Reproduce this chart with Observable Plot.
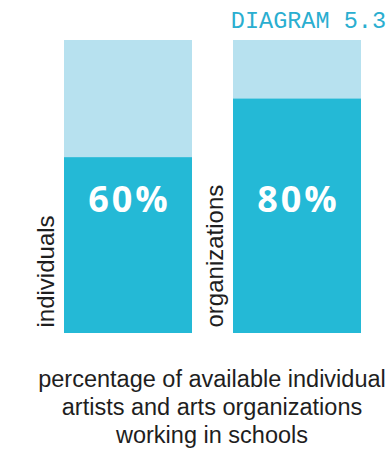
<!DOCTYPE html>
<html>
<head>
<meta charset="utf-8">
<script src="https://cdn.jsdelivr.net/npm/d3@7"></script>
<script src="https://cdn.jsdelivr.net/npm/@observablehq/plot@0.6"></script>
<style>
  html, body { margin: 0; padding: 0; background: #fff; }
  #wrap { position: relative; width: 389px; height: 451px; overflow: hidden; }
  #title { position: absolute; right: 3px; top: 8px; font-family: "Liberation Mono", monospace; font-size: 23.5px; color: #2aaed0; }
  #chart { position: absolute; left: 0; top: 0; }
  #chart g[font-weight="bold"] text { letter-spacing: 3px; }
  #caption { position: absolute; left: 12px; width: 400px; top: 365px; text-align: center; font-family: "Liberation Sans", Arial, sans-serif; font-size: 23.5px; line-height: 28px; color: #1e1e1e; }
</style>
</head>
<body>
<div id="wrap">
  <div id="chart"></div>
  <div id="title"></div>
  <div id="caption"></div>
</div>
<script>
const categories = ["individuals", "organizations"];
const values = [60, 80];
const totals = [100, 100];
const titleText = "DIAGRAM 5.3";
const captionLines = ["percentage of available individual", "artists and arts organizations", "working in schools"];

const data = categories.map((c, i) => ({category: c, value: values[i], total: totals[i]}));

const chart = Plot.plot({
  width: 389,
  height: 345,
  marginTop: 40,
  marginBottom: 12,
  marginLeft: 64,
  marginRight: 28,
  x: {domain: categories, paddingInner: 0.243, paddingOuter: 0, axis: null},
  y: {domain: [0, 100], axis: null},
  marks: [
    Plot.barY(data, {x: "category", y: "total", fill: "#b7e1ef"}),
    Plot.barY(data, {x: "category", y: "value", fill: "#24b9d6"}),
    Plot.text(data, {x: "category", text: d => d.value + "%", frameAnchor: "bottom", dy: -133, dx: 1, fill: "white", fontSize: 36, fontWeight: "bold", fontFamily: "'Open Sans', sans-serif", lineAnchor: "middle"}),
    Plot.text(data, {x: "category", text: "category", frameAnchor: "bottom", rotate: -90, textAnchor: "start", lineAnchor: "middle", dx: -82, dy: -6, fill: "#1e1e1e", fontSize: 24, fontFamily: "'Liberation Sans', Arial, sans-serif"})
  ]
});
document.getElementById("chart").appendChild(chart);
document.getElementById("title").textContent = titleText;
document.getElementById("caption").innerHTML = captionLines.map(l => `<div>${l}</div>`).join("");
</script>
</body>
</html>
